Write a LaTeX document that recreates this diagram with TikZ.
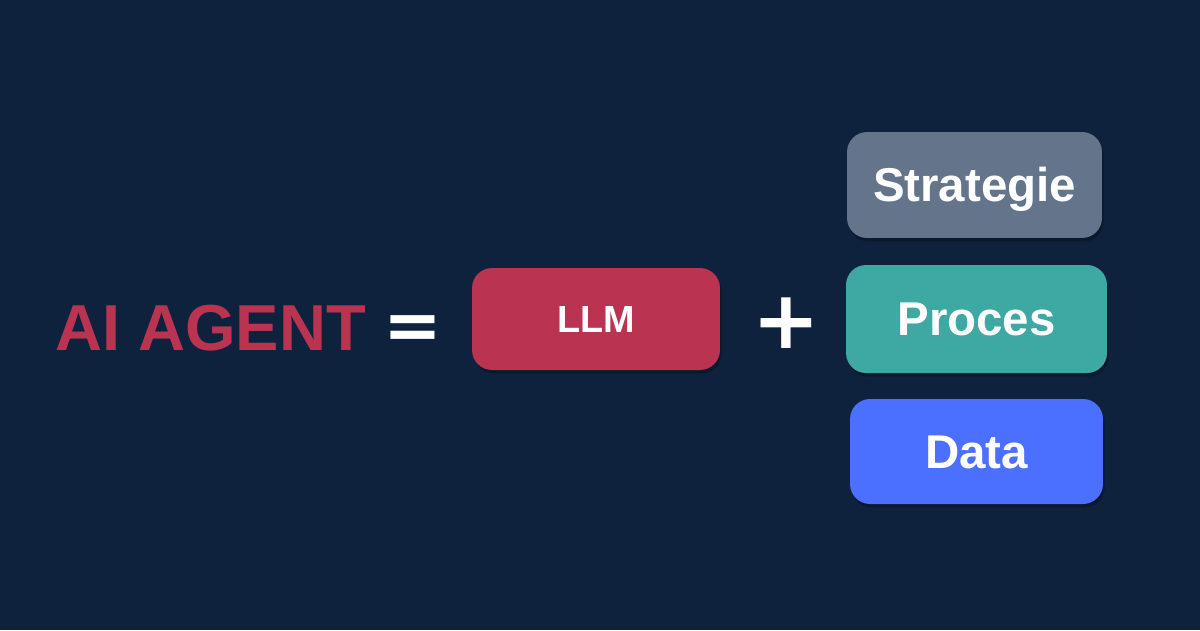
\documentclass[tikz,border=0pt]{standalone}
\usepackage{fontspec}
\setmainfont{Liberation Sans}
\newfontfamily\signfont{DejaVu Sans}
\usetikzlibrary{shadows}

\definecolor{bgnavy}{HTML}{0F223D}
\definecolor{agentred}{HTML}{BA3350}
\definecolor{stratgray}{HTML}{64748B}
\definecolor{procteal}{HTML}{3EA8A3}
\definecolor{datablue}{HTML}{4B6FFF}

\begin{document}
\begin{tikzpicture}[x=0.02cm,y=-0.02cm,
  box/.style={rounded corners=0.4cm, inner sep=0pt, text=white,
    text height=19.3pt, text depth=0pt,
    font=\bfseries\fontsize{27}{30}\selectfont,
    drop shadow={shadow xshift=1pt, shadow yshift=-2pt, opacity=0.25, fill=black}},
  sign/.style={text=white, inner sep=0pt, anchor=base,
    font=\signfont\bfseries\fontsize{42}{42}\selectfont}]
\fill [bgnavy] (0,0) rectangle (1200,630);
\useasboundingbox (0,0) rectangle (1200,630);
% left side
\node (agent) [anchor=base west, inner sep=0pt, text=agentred,
  font=\bfseries\fontsize{37}{40}\selectfont] at (55,350) {AI AGENT};
\node (eq) [sign, font=\signfont\bfseries\fontsize{40}{40}\selectfont] at (413,349) {=};
% llm
\node (llm) [box, fill=agentred, minimum width=4.96cm, minimum height=2.04cm,
  text height=15.4pt, font=\bfseries\fontsize{21.5}{24}\selectfont] at (596,319) {LLM};
\node (plus) [sign, font=\signfont\bfseries\fontsize{46}{46}\selectfont] at (786,348) {+};
% the three extra parts
\node (strat) [box, fill=stratgray, minimum width=5.1cm, minimum height=2.12cm] at (974.5,185) {Strategie};
\node (proces) [box, fill=procteal, minimum width=5.22cm, minimum height=2.16cm] at (976.5,319) {Proces};
\node (data) [box, fill=datablue, minimum width=5.06cm, minimum height=2.1cm] at (976.5,451.5) {Data};
\end{tikzpicture}
\end{document}
